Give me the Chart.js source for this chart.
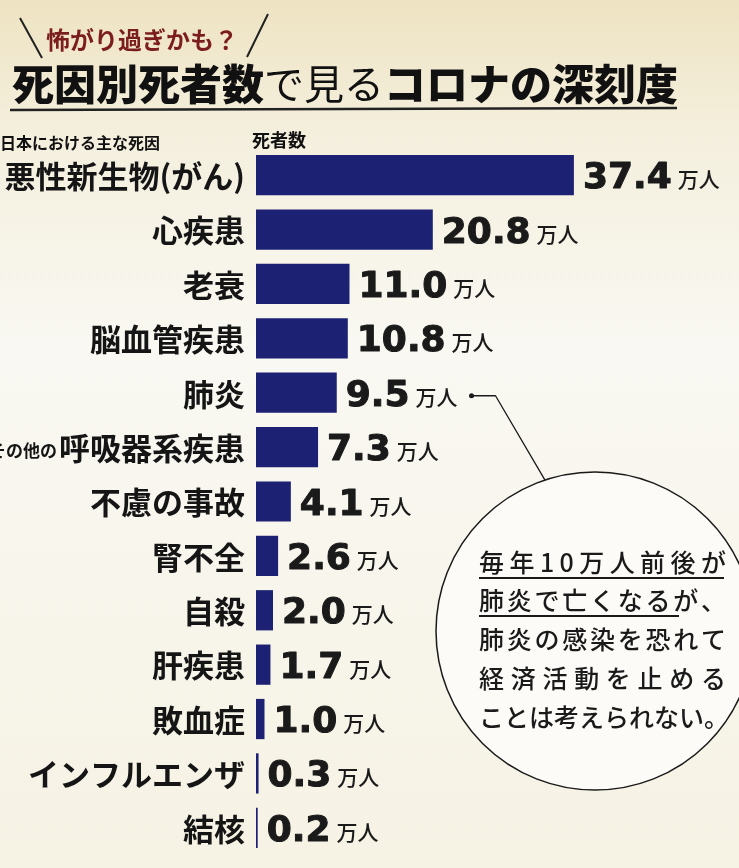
<!DOCTYPE html>
<html lang="ja">
<head>
<meta charset="utf-8">
<script src="https://cdn.jsdelivr.net/npm/chart.js@4/dist/chart.umd.min.js"></script>
<style>
  html, body { margin: 0; padding: 0; background: #f7f4ea; }
  canvas { display: block; }
</style>
</head>
<body>
<canvas id="deaths" width="739" height="868"></canvas>
<script>
// 日本における主な死因と死者数（万人）
const causes = ['悪性新生物(がん)', '心疾患', '老衰', '脳血管疾患', '肺炎', '呼吸器系疾患',
  '不慮の事故', '腎不全', '自殺', '肝疾患', '敗血症', 'インフルエンザ', '結核'];
const causePrefix = ['', '', '', '', '', 'その他の', '', '', '', '', '', '', ''];
const deaths = [37.4, 20.8, 11.0, 10.8, 9.5, 7.3, 4.1, 2.6, 2.0, 1.7, 1.0, 0.3, 0.2];
const unit = '万人';
const noteLines = ['毎年10万人前後が', '肺炎で亡くなるが、', '肺炎の感染を恐れて', '経済活動を止める', 'ことは考えられない。'];

const JP = "'Noto Sans CJK JP', 'Noto Sans', sans-serif";
const NUM = "'DejaVu Sans', 'Liberation Sans', sans-serif";

// background + heading
const decor = {
  id: 'decor',
  beforeDraw(chart) {
    const c = chart.ctx;
    c.save();
    const g = c.createLinearGradient(0, 0, 0, 868);
    g.addColorStop(0, '#eee3c2');
    g.addColorStop(0.15, '#f4efdd');
    g.addColorStop(0.4, '#f9f8f2');
    g.addColorStop(1, '#f6f2e4');
    c.fillStyle = g;
    c.fillRect(0, 0, 739, 868);

    // sub heading with slashes
    c.strokeStyle = '#222';
    c.lineWidth = 2;
    c.beginPath();
    c.moveTo(20, 18); c.lineTo(42, 58);
    c.moveTo(268, 14); c.lineTo(247, 57);
    c.stroke();
    c.fillStyle = '#7c1d1d';
    c.font = 'bold 24px ' + JP;
    c.textBaseline = 'middle';
    c.fillText('怖がり過ぎかも？', 46, 40);

    // main title
    let x = 12;
    const ty = 84;
    c.fillStyle = '#111';
    c.font = '900 42px ' + JP;
    c.fillText('死因別死者数', x, ty);
    x += c.measureText('死因別死者数').width;
    c.font = '400 40px ' + JP;
    c.fillText('で見る', x, ty);
    x += c.measureText('で見る').width;
    c.font = '900 42px ' + JP;
    c.fillText('コロナの深刻度', x, ty);

    c.lineWidth = 2.5;
    c.beginPath();
    c.moveTo(10, 110); c.lineTo(677, 108);
    c.stroke();

    c.font = 'bold 16px ' + JP;
    c.fillText('日本における主な死因', 0, 143);
    c.font = 'bold 18px ' + JP;
    c.fillText('死者数', 252, 140);
    c.restore();
  }
};

// category labels, value labels, note circle
const labels = {
  id: 'labels',
  afterDatasetsDraw(chart) {
    const c = chart.ctx;
    const meta = chart.getDatasetMeta(0);
    const yScale = chart.scales.y;
    const right = chart.chartArea.left - 11;
    c.save();
    c.fillStyle = '#151515';
    c.textBaseline = 'middle';
    causes.forEach((name, i) => {
      const y = yScale.getPixelForValue(i) + 1;
      c.font = 'bold 31px ' + JP;
      c.textAlign = 'right';
      c.fillText(name, right, y);
      if (causePrefix[i]) {
        const w = c.measureText(name).width;
        c.font = 'bold 17px ' + JP;
        c.fillText(causePrefix[i], right - w - 2, y + 2);
      }
    });

    c.textAlign = 'left';
    c.textBaseline = 'alphabetic';
    c.strokeStyle = '#1a1a1a';
    c.lineJoin = 'round';
    let anchor = null;
    meta.data.forEach((bar, i) => {
      const x0 = bar.x + 9;
      const base = bar.y + 13;
      const txt = deaths[i].toFixed(1);
      c.font = 'bold 36px ' + NUM;
      c.fillStyle = '#1a1a1a';
      c.lineWidth = 1;
      c.fillText(txt, x0, base);
      c.strokeText(txt, x0, base);
      const w = c.measureText(txt).width;
      c.font = '500 21px ' + JP;
      c.fillText(unit, x0 + w + 6, base - 1);
      if (causes[i] === '肺炎') {
        anchor = { x: x0 + w + 6 + c.measureText(unit).width + 14, y: bar.y + 3 };
      }
    });

    // note bubble
    const cx = 595, cy = 631, r = 159;
    c.beginPath();
    c.arc(cx, cy, r, 0, Math.PI * 2);
    c.fillStyle = '#fcfbf7';
    c.fill();
    c.strokeStyle = '#1a1a1a';
    c.lineWidth = 1.5;
    c.stroke();

    if (anchor) {
      c.beginPath();
      c.arc(anchor.x, anchor.y, 2.5, 0, Math.PI * 2);
      c.fillStyle = '#1a1a1a';
      c.fill();
      c.beginPath();
      c.moveTo(anchor.x, anchor.y);
      c.lineTo(anchor.x + 24, anchor.y);
      c.lineTo(545, cy - Math.sqrt(r * r - 50 * 50));
      c.lineWidth = 1.3;
      c.stroke();
    }

    c.font = '500 25px ' + JP;
    c.fillStyle = '#1a1a1a';
    c.textBaseline = 'middle';
    const lx = 479, lw = 247;
    const ly = [562, 600, 639, 678, 717];
    noteLines.forEach((line, k) => {
      const chars = Array.from(line);
      if (k === noteLines.length - 1) {
        c.fillText(line, lx, ly[k]);
        return;
      }
      const natural = chars.reduce((s, ch) => s + c.measureText(ch).width, 0);
      const gap = (lw - natural) / (chars.length - 1);
      let x = lx;
      chars.forEach(ch => {
        c.fillText(ch, x, ly[k]);
        x += c.measureText(ch).width + gap;
      });
    });
    c.lineWidth = 1.8;
    c.beginPath();
    c.moveTo(lx, 578); c.lineTo(lx + 245, 578);
    c.moveTo(lx, 616); c.lineTo(679, 616);
    c.stroke();
    c.restore();
  }
};

const ctx = document.getElementById('deaths').getContext('2d');
const chart = new Chart(ctx, {
  type: 'bar',
  plugins: [decor, labels],
  data: {
    labels: causes,
    datasets: [{
      label: '死者数',
      data: deaths,
      backgroundColor: '#1d2173',
      borderWidth: 0,
      barPercentage: 0.74,
      categoryPercentage: 1
    }]
  },
  options: {
    indexAxis: 'y',
    responsive: false,
    animation: false,
    layout: {
      padding: { left: 256, right: 58, top: 148, bottom: 13 }
    },
    scales: {
      x: { display: false, min: 0, max: 50 },
      y: { display: false }
    },
    plugins: {
      legend: { display: false },
      title: { display: false },
      tooltip: { enabled: false }
    }
  }
});
</script>
</body>
</html>
